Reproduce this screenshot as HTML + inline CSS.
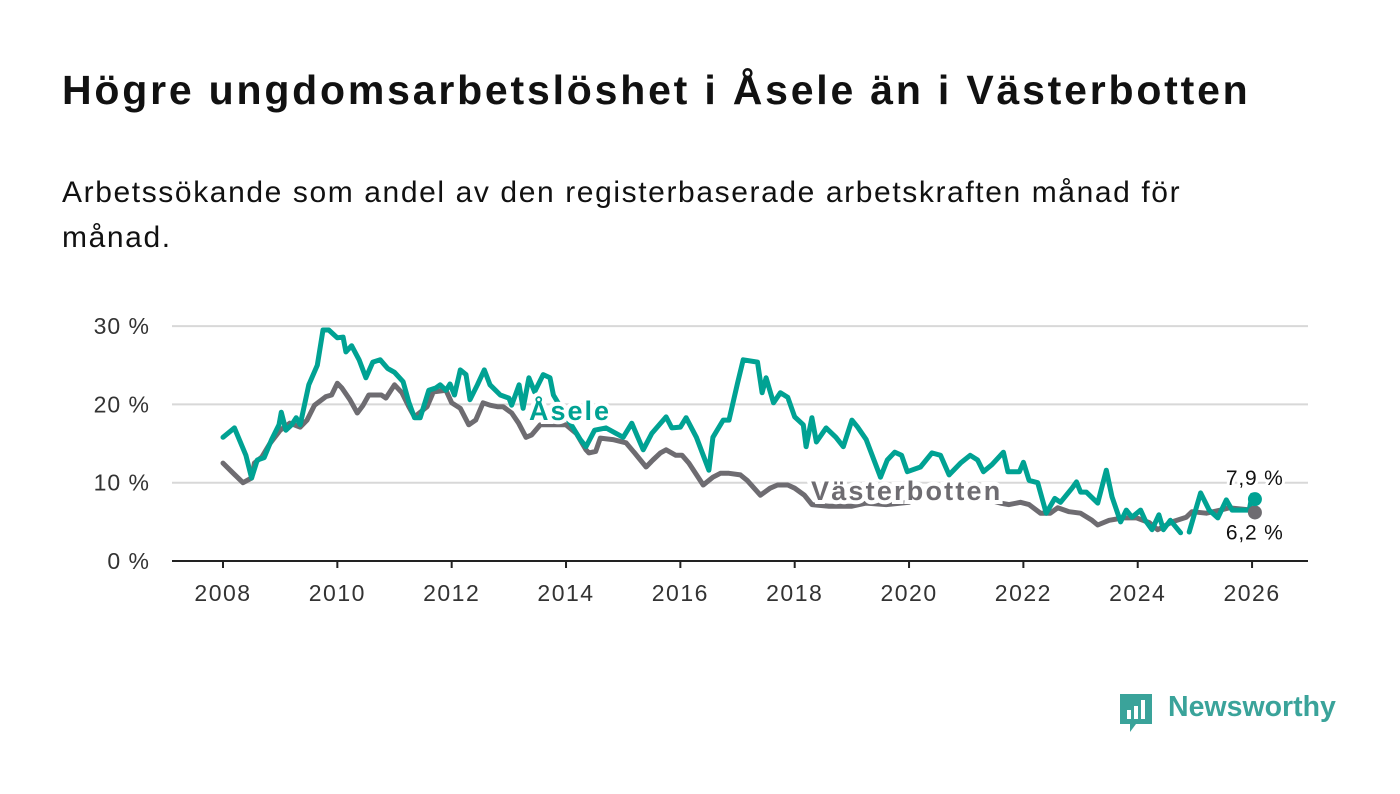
<!DOCTYPE html>
<html><head><meta charset="utf-8"><style>
body{margin:0;background:#fff;width:1400px;height:794px;overflow:hidden;font-family:"Liberation Sans",sans-serif}
.t{position:absolute;left:62px;top:67px;font-size:41px;letter-spacing:2.8px;font-weight:bold;color:#111;white-space:nowrap}
.s{position:absolute;left:62px;top:170px;width:1180px;font-size:30px;letter-spacing:1.6px;line-height:45px;color:#111}
</style></head><body>
<div class="t">Högre ungdomsarbetslöshet i Åsele än i Västerbotten</div>
<div class="s">Arbetssökande som andel av den registerbaserade arbetskraften månad för månad.</div>
<svg id="c" width="1400" height="794" style="position:absolute;left:0;top:0"></svg>
<script>
const aseleX=[2008.0,2008.2,2008.4,2008.5,2008.6,2008.72,2008.85,2008.98,2009.02,2009.1,2009.2,2009.28,2009.35,2009.5,2009.65,2009.75,2009.85,2010.0,2010.1,2010.15,2010.25,2010.38,2010.5,2010.62,2010.75,2010.88,2011.0,2011.15,2011.25,2011.35,2011.45,2011.6,2011.72,2011.8,2011.9,2011.97,2012.05,2012.15,2012.25,2012.32,2012.45,2012.57,2012.67,2012.85,2013.0,2013.05,2013.18,2013.25,2013.35,2013.45,2013.6,2013.72,2013.78,2014.0,2014.25,2014.35,2014.5,2014.7,2015.0,2015.15,2015.35,2015.5,2015.75,2015.85,2016.0,2016.1,2016.28,2016.5,2016.57,2016.75,2016.85,2017.0,2017.1,2017.35,2017.43,2017.5,2017.63,2017.75,2017.88,2018.0,2018.15,2018.2,2018.3,2018.38,2018.55,2018.72,2018.85,2019.0,2019.1,2019.25,2019.5,2019.62,2019.75,2019.87,2019.97,2020.2,2020.4,2020.55,2020.7,2020.9,2021.07,2021.2,2021.3,2021.45,2021.65,2021.73,2021.93,2022.0,2022.1,2022.25,2022.4,2022.55,2022.65,2022.85,2022.93,2023.0,2023.1,2023.3,2023.45,2023.55,2023.7,2023.8,2023.9,2024.05,2024.13,2024.25,2024.37,2024.45,2024.57,2024.75,2024.82,2024.9,2025.1,2025.25,2025.4,2025.55,2025.65,2025.95,2026.0,2026.05];
const aseleV=[15.8,17,13.5,10.6,12.9,13.2,15.5,17.4,19,16.7,17.4,18.3,17.4,22.5,25,29.5,29.5,28.5,28.6,26.7,27.5,25.7,23.4,25.4,25.7,24.6,24.1,22.9,20.3,18.3,18.3,21.8,22.1,22.5,21.8,22.6,21.2,24.4,23.8,20.6,22.5,24.4,22.5,21.2,20.8,19.9,22.5,19.5,23.4,21.6,23.8,23.4,21.2,18.5,15.5,14.6,16.7,17,15.8,17.6,14.2,16.3,18.4,17,17.1,18.3,15.8,11.6,15.8,18,18,22.7,25.7,25.4,21.5,23.4,20.2,21.5,20.9,18.4,17.4,14.6,18.3,15.2,17,15.8,14.6,18,17.1,15.5,10.7,12.9,13.9,13.5,11.4,12,13.8,13.5,11,12.5,13.5,12.9,11.4,12.3,13.9,11.4,11.4,12.6,10.3,10,6.1,8,7.5,9.3,10.1,8.8,8.8,7.4,11.6,8.2,5,6.5,5.6,6.5,5.2,4,5.9,4,5.2,3.6,null,3.7,8.7,6.5,5.5,7.8,6.5,6.5,8.4,7.9];
const vbX=[2008.0,2008.18,2008.35,2008.5,2008.55,2008.68,2008.82,2009.0,2009.17,2009.35,2009.47,2009.6,2009.8,2009.9,2010.0,2010.08,2010.22,2010.35,2010.45,2010.55,2010.77,2010.85,2011.0,2011.13,2011.25,2011.35,2011.57,2011.68,2011.9,2012.0,2012.15,2012.3,2012.42,2012.55,2012.67,2012.8,2012.9,2013.05,2013.17,2013.3,2013.4,2013.55,2014.0,2014.18,2014.35,2014.4,2014.52,2014.6,2014.82,2015.05,2015.2,2015.4,2015.52,2015.65,2015.75,2015.92,2016.03,2016.15,2016.4,2016.57,2016.7,2016.85,2017.05,2017.17,2017.4,2017.57,2017.7,2017.88,2018.0,2018.17,2018.3,2018.6,2019.0,2019.25,2019.6,2020.0,2020.4,2020.8,2021.2,2021.6,2021.75,2021.95,2022.1,2022.3,2022.47,2022.6,2022.8,2023.0,2023.2,2023.3,2023.5,2023.75,2023.98,2024.2,2024.35,2024.6,2024.85,2024.95,2025.2,2025.45,2025.6,2026.0,2026.05];
const vbV=[12.5,11.2,10,10.6,12.5,13.3,15,16.7,17.6,17.1,18,19.9,21,21.2,22.7,22.1,20.6,18.9,19.9,21.2,21.2,20.8,22.5,21.5,19.7,18.4,19.7,21.6,21.8,20.2,19.5,17.4,18,20.2,19.9,19.7,19.7,18.9,17.6,15.8,16.1,17.4,17.4,16.3,14.2,13.8,14,15.7,15.5,15.1,13.8,12,12.9,13.8,14.2,13.5,13.5,12.5,9.7,10.7,11.2,11.2,11,10.3,8.4,9.3,9.7,9.7,9.3,8.4,7.2,7,7,7.4,7.2,7.5,9.5,9,8.2,7.4,7.2,7.5,7.2,6.1,6.1,6.8,6.3,6.1,5.2,4.6,5.2,5.5,5.5,4.9,4,5,5.6,6.3,6.1,6.5,6.8,6.5,6.2];
const yTicks=[0,10,20,30];
const xTicks=[2008,2010,2012,2014,2016,2018,2020,2022,2024,2026];
const NS="http://www.w3.org/2000/svg",svg=document.getElementById('c');
const X=v=>223+(v-2008)*57.17, Y=v=>561-v*7.83;
function mk(t,a,p){const e=document.createElementNS(NS,t);for(const k in a)e.setAttribute(k,a[k]);(p||svg).appendChild(e);return e;}
yTicks.forEach(v=>{
 if(v>0){const g=mk('line',{x1:172,x2:1308,y1:Y(v),y2:Y(v),stroke:'#d8d8d8','stroke-width':2});
 
 }
 const t=mk('text',{x:150,y:Y(v)+8,'text-anchor':'end','font-size':23,'letter-spacing':1,fill:'#333','font-family':'Liberation Sans,sans-serif'});t.textContent=v+' %';
 
 
});
const ax=mk('line',{x1:172,x2:1308,y1:561,y2:561,stroke:'#222','stroke-width':2});


xTicks.forEach(v=>{
 mk('line',{x1:X(v),x2:X(v),y1:561,y2:568,stroke:'#222','stroke-width':2});
 const t=mk('text',{x:X(v),y:601,'text-anchor':'middle','font-size':23,'letter-spacing':1.5,fill:'#333','font-family':'Liberation Sans,sans-serif'});t.textContent=v;
 
 
});
function path(xs,vs,col,name){let d='',pen=false;xs.forEach((x,i)=>{if(vs[i]==null){pen=false;return;}d+=(pen?'L':'M')+X(x).toFixed(1)+','+Y(vs[i]).toFixed(1);pen=true;});
 const p=mk('path',{d:d,fill:'none',stroke:col,'stroke-width':5,'stroke-linejoin':'round','stroke-linecap':'round'});
 
 }
path(vbX,vbV,'#6e6c71','vasterbotten-line');
path(aseleX,aseleV,'#00a293','asele-line');
function lab(x,y,txt,col,size,w,ls,name){const t=mk('text',{x:x,y:y,'font-size':size,'font-weight':w,'letter-spacing':ls,fill:col,stroke:'#fff','stroke-width':w=='bold'?8:6,'paint-order':'stroke','font-family':'Liberation Sans,sans-serif'});t.textContent=txt;
 
 return t;}
lab(529,420,'Åsele','#00a293',27,'bold',2,'asele-label');
lab(811,500,'Västerbotten','#6e6c71',27,'bold',2.2,'vasterbotten-label');
const la=aseleV[aseleV.length-1],lv=vbV[vbV.length-1],lx=aseleX[aseleX.length-1];
const c1=mk('circle',{cx:X(lx),cy:Y(lv),r:7,fill:'#6e6c71'});


const c2=mk('circle',{cx:X(lx),cy:Y(la),r:7,fill:'#00a293'});


lab(X(lx)-29,Y(la)-14,la.toFixed(1).replace('.',',')+' %','#111',21,'normal',0.8,'asele-end-value');
lab(X(lx)-29,Y(lv)+27,lv.toFixed(1).replace('.',',')+' %','#111',21,'normal',0.8,'vasterbotten-end-value');
</script>
<div style="position:absolute;left:1118px;top:690px;height:46px">
<svg width="36" height="44" style="position:absolute;left:0;top:2px"><path d="M2,2h32v30H18l-6,8v-8H2z" fill="#3aa39a"/><rect x="9" y="18" width="4" height="9" fill="#fff"/><rect x="16" y="14" width="4" height="13" fill="#fff"/><rect x="23" y="8" width="4" height="19" fill="#fff"/></svg>
<span style="position:absolute;left:50px;top:1px;font-size:28.5px;font-weight:bold;color:#3aa39a;white-space:nowrap">Newsworthy</span></div>
</body></html>
